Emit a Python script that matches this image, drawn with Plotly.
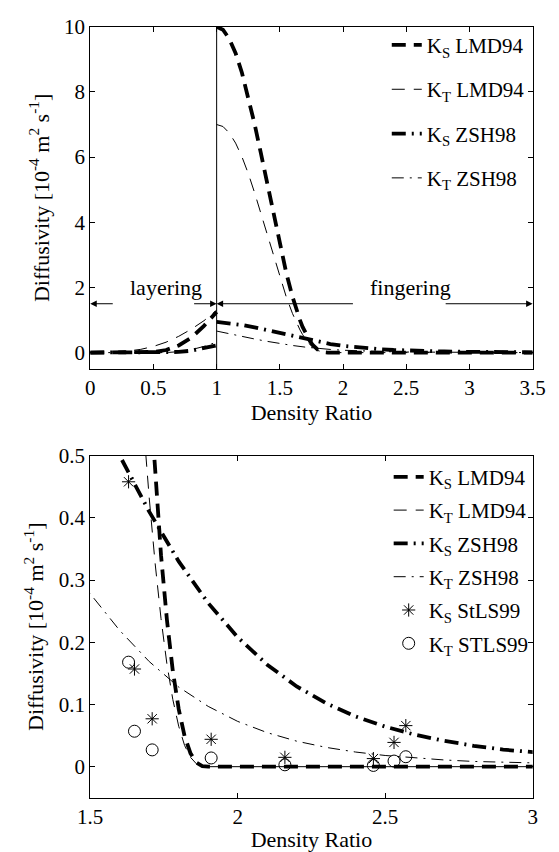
import plotly.graph_objects as go

# ---------------- data ----------------
# Layering regime (density ratio < 1)
x_layer = [0.0, 0.1, 0.2, 0.3, 0.4, 0.5, 0.6, 0.7, 0.8, 0.9, 1.0]
ks_lmd_layer = [0.0, 0.0, 0.0, 0.0, 0.01, 0.02, 0.08, 0.22, 0.46, 0.82, 1.25]
kt_lmd_layer = [0.01, 0.01, 0.02, 0.05, 0.10, 0.19, 0.32, 0.50, 0.72, 0.98, 1.30]
ks_zsh_layer = [0.0, 0.0, 0.0, 0.0, 0.0, 0.0, 0.0, 0.02, 0.06, 0.13, 0.22]
kt_zsh_layer = [0.0, 0.0, 0.0, 0.0, 0.0, 0.0, 0.0, 0.03, 0.09, 0.19, 0.32]

# Fingering regime, LMD94
x_lmd = [1.00, 1.05, 1.10, 1.15, 1.20, 1.25, 1.30, 1.35, 1.40, 1.45, 1.50, 1.55,
         1.60, 1.62, 1.64, 1.66, 1.68, 1.70, 1.72, 1.74, 1.76, 1.78, 1.80, 1.82,
         1.84, 1.86, 1.88, 1.90, 2.0, 2.5, 3.0, 3.5]
ks_lmd = [10.0, 9.91, 9.63, 9.19, 8.59, 7.86, 7.02, 6.12, 5.17, 4.22, 3.31, 2.46,
          1.715, 1.450, 1.208, 0.988, 0.790, 0.617, 0.467, 0.340, 0.236, 0.154, 0.0925, 0.049,
          0.0214, 0.0066, 0.0008, 0.0, 0.0, 0.0, 0.0, 0.0]
kt_lmd = [7.0, 6.94, 6.74, 6.43, 6.01, 5.50, 4.91, 4.28, 3.62, 2.95, 2.32, 1.72,
          1.200, 1.015, 0.846, 0.692, 0.553, 0.432, 0.327, 0.238, 0.165, 0.108, 0.065, 0.034,
          0.015, 0.0046, 0.0006, 0.0, 0.0, 0.0, 0.0, 0.0]

# Fingering regime, ZSH98
x_zsh = [1.0, 1.1, 1.2, 1.3, 1.4, 1.5, 1.6, 1.7, 1.8, 1.9, 2.0, 2.1, 2.2, 2.3,
         2.4, 2.5, 2.6, 2.7, 2.8, 2.9, 3.0, 3.1, 3.2, 3.3, 3.4, 3.5]
ks_zsh = [0.944, 0.904, 0.849, 0.777, 0.690, 0.596, 0.500, 0.410, 0.330, 0.263,
          0.208, 0.164, 0.129, 0.102, 0.0807, 0.0643, 0.0515, 0.0415, 0.0336, 0.0274,
          0.0225, 0.0186, 0.0154, 0.0128, 0.0107, 0.0090]
kt_zsh = [0.661, 0.575, 0.495, 0.418, 0.345, 0.278, 0.219, 0.169, 0.128, 0.0969,
          0.0728, 0.0547, 0.0410, 0.0310, 0.0235, 0.0180, 0.0139, 0.0108, 0.0084, 0.0066,
          0.0053, 0.0042, 0.0034, 0.0027, 0.0022, 0.0018]

# StLS99 observations
x_obs = [1.63, 1.65, 1.71, 1.91, 2.16, 2.46, 2.53, 2.57]
ks_obs = [0.458, 0.157, 0.077, 0.044, 0.015, 0.013, 0.039, 0.066]
kt_obs = [0.168, 0.057, 0.027, 0.014, 0.003, 0.002, 0.009, 0.016]

# regime divider and annotation arrows (top panel)
divider_x = [1.0, 1.0]
divider_y = [-0.5, 10.0]
arrow_y = 1.5
arrow_heads = [0.0, 1.0, 1.0, 3.5]
arrow_tails = [0.19, 0.81, 2.09, 2.80]
regime_labels = ["layering", "fingering"]
regime_label_x = [0.60, 2.53]
regime_label_y = 2.0

top_xticks = [0, 0.5, 1, 1.5, 2, 2.5, 3, 3.5]
top_xticklabels = ["0", "0.5", "1", "1.5", "2", "2.5", "3", "3.5"]
top_yticks = [0, 2, 4, 6, 8, 10]
bot_xticks = [1.5, 2, 2.5, 3]
bot_xticklabels = ["1.5", "2", "2.5", "3"]
bot_yticks = [0, 0.1, 0.2, 0.3, 0.4, 0.5]
bot_yticklabels = ["0", "0.1", "0.2", "0.3", "0.4", "0.5"]

names = ["K<sub>S</sub> LMD94", "K<sub>T</sub> LMD94", "K<sub>S</sub> ZSH98",
         "K<sub>T</sub> ZSH98", "K<sub>S</sub> StLS99", "K<sub>T</sub> STLS99"]

# ---------------- styles ----------------
FONT = "Liberation Serif"
thick_dash = dict(color="black", width=3.8, dash="14px,8px")
thin_dash = dict(color="black", width=1, dash="13px,9px")
thick_dashdot = dict(color="black", width=3.8, dash="14px,6px,2px,6px")
thin_dashdot = dict(color="black", width=1, dash="12px,6px,2px,6px")


def join(xa, ya, xb, yb):
    return xa + [None] + xb, ya + [None] + yb


fig = go.Figure()

# ---- top panel ----
fig.add_trace(go.Scatter(x=divider_x, y=divider_y, mode="lines",
                         line=dict(color="black", width=1), showlegend=False,
                         hoverinfo="skip", xaxis="x", yaxis="y"))

series_top = [
    (ks_lmd_layer, x_lmd, ks_lmd, thick_dash, names[0]),
    (kt_lmd_layer, x_lmd, kt_lmd, thin_dash, names[1]),
    (ks_zsh_layer, x_zsh, ks_zsh, thick_dashdot, names[2]),
    (kt_zsh_layer, x_zsh, kt_zsh, thin_dashdot, names[3]),
]
for i, (yl, xf, yf, ln, nm) in enumerate(series_top):
    xx, yy = join(x_layer, yl, xf, yf)
    fig.add_trace(go.Scatter(x=xx, y=yy, mode="lines", line=ln, name=nm,
                             legend="legend", legendgroup="t%d" % i,
                             xaxis="x", yaxis="y"))

# ---- bottom panel ----
series_bot = [
    (x_lmd, ks_lmd, thick_dash, names[0]),
    (x_lmd, kt_lmd, thin_dash, names[1]),
    (x_zsh, ks_zsh, thick_dashdot, names[2]),
    (x_zsh, kt_zsh, thin_dashdot, names[3]),
]
for i, (xx, yy, ln, nm) in enumerate(series_bot):
    fig.add_trace(go.Scatter(x=xx, y=yy, mode="lines", line=ln, name=nm,
                             legend="legend2", legendgroup="b%d" % i,
                             xaxis="x2", yaxis="y2"))
fig.add_trace(go.Scatter(x=x_obs, y=ks_obs, mode="markers", name=names[4],
                         marker=dict(symbol="asterisk-open", size=11, color="black",
                                     line=dict(color="black", width=1)),
                         legend="legend2", legendgroup="b4", xaxis="x2", yaxis="y2"))
fig.add_trace(go.Scatter(x=x_obs, y=kt_obs, mode="markers", name=names[5],
                         marker=dict(symbol="circle-open", size=12, color="black",
                                     line=dict(color="black", width=1)),
                         legend="legend2", legendgroup="b5", xaxis="x2", yaxis="y2"))

# ---- annotations ----
annos = []
for h, t in zip(arrow_heads, arrow_tails):
    annos.append(dict(x=h, y=arrow_y, ax=t, ay=arrow_y, xref="x", yref="y",
                      axref="x", ayref="y", text="", showarrow=True,
                      arrowhead=2, arrowsize=1.3, arrowwidth=1, arrowcolor="black",
                      standoff=0, startstandoff=0))
for lab, lx in zip(regime_labels, regime_label_x):
    annos.append(dict(x=lx, y=regime_label_y, xref="x", yref="y", text=lab,
                      showarrow=False, font=dict(family=FONT, size=22, color="black")))

axis_common = dict(showline=True, linecolor="black", linewidth=1.2, mirror="ticks",
                   ticks="inside", ticklen=5, tickwidth=1, tickcolor="black",
                   showgrid=False, zeroline=False,
                   tickfont=dict(family=FONT, size=21, color="black"))
ytitle = "Diffusivity [10<sup>-4</sup> m<sup>2</sup> s<sup>-1</sup>]"
xdom = [81 / 559, 545 / 559]

fig.update_layout(
    width=559, height=852,
    margin=dict(l=0, r=0, t=0, b=0),
    paper_bgcolor="white", plot_bgcolor="white",
    font=dict(family=FONT, color="black"),
    annotations=annos,
    xaxis=dict(domain=xdom, range=[0, 3.5], anchor="y",
               tickvals=top_xticks, ticktext=top_xticklabels,
               title=dict(text="Density Ratio", font=dict(family=FONT, size=22), standoff=2),
               **axis_common),
    yaxis=dict(domain=[1 - 362 / 852, 1 - 15 / 852], range=[-0.5, 10], anchor="x",
               tickvals=top_yticks,
               title=dict(text=ytitle, font=dict(family=FONT, size=22), standoff=8),
               **axis_common),
    xaxis2=dict(domain=xdom, range=[1.5, 3], anchor="y2",
                tickvals=bot_xticks, ticktext=bot_xticklabels,
                title=dict(text="Density Ratio", font=dict(family=FONT, size=22), standoff=2),
                **axis_common),
    yaxis2=dict(domain=[1 - 797 / 852, 1 - 450 / 852], range=[-0.05, 0.5], anchor="x2",
                tickvals=bot_yticks, ticktext=bot_yticklabels,
                title=dict(text=ytitle, font=dict(family=FONT, size=22), standoff=8),
                **axis_common),
    legend=dict(x=392 / 559, y=1 - 13 / 852, xanchor="left", yanchor="top",
                bgcolor="rgba(0,0,0,0)", borderwidth=0, tracegroupgap=14,
                font=dict(family=FONT, size=21, color="black"), itemwidth=30),
    legend2=dict(x=394 / 559, y=1 - 451 / 852, xanchor="left", yanchor="top",
                 bgcolor="rgba(0,0,0,0)", borderwidth=0, tracegroupgap=3,
                 font=dict(family=FONT, size=21, color="black"), itemwidth=30),
    showlegend=True,
)

fig.write_html("out.html")
